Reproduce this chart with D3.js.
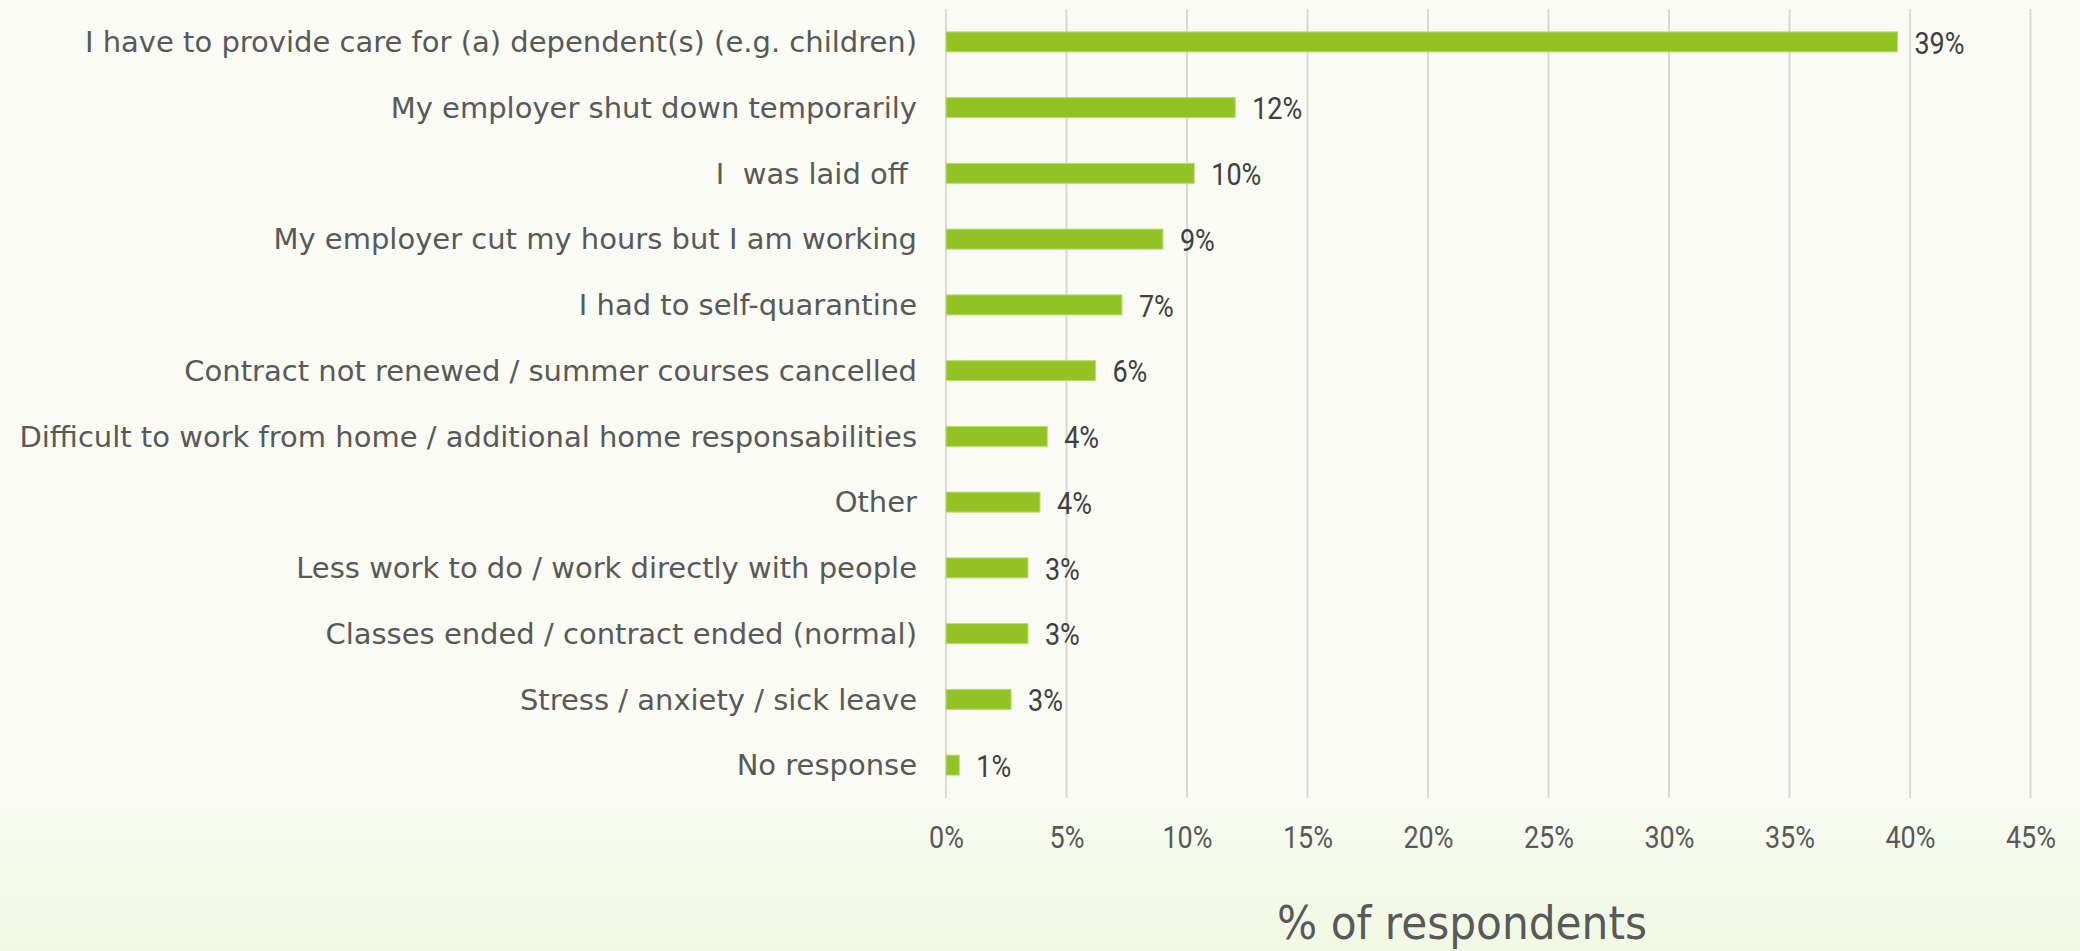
<!DOCTYPE html>
<html>
<head>
<meta charset="utf-8">
<script src="https://cdn.jsdelivr.net/npm/d3@7"></script>
<style>
  html, body { margin: 0; padding: 0; background: #f9fbf3; }
  svg { display: block; }
  text { white-space: pre; }
</style>
</head>
<body>
<svg id="chart" width="2080" height="951"></svg>
<script>
// Reasons for working less, share of respondents
const categories = [
  "I have to provide care for (a) dependent(s) (e.g. children)",
  "My employer shut down temporarily",
  "I  was laid off ",
  "My employer cut my hours but I am working",
  "I had to self-quarantine",
  "Contract not renewed / summer courses cancelled",
  "Difficult to work from home / additional home responsabilities",
  "Other",
  "Less work to do / work directly with people",
  "Classes ended / contract ended (normal)",
  "Stress / anxiety / sick leave",
  "No response"
];
const shares = [0.3948, 0.120, 0.103, 0.090, 0.073, 0.062, 0.042, 0.039, 0.034, 0.034, 0.027, 0.0055];
const tickValues = [0, 0.05, 0.10, 0.15, 0.20, 0.25, 0.30, 0.35, 0.40, 0.45];
const axisTitle = "% of respondents";

const W = 2080, H = 951;
const plot = { left: 946, right: 2030.5, top: 9, bottom: 798 };
const numberFont = "'Roboto', 'Liberation Sans', sans-serif";
const narrow = "scale(0.87, 1)";

const svg = d3.select("#chart");

// Background: pale panel with a soft green fade at the bottom
const defs = svg.append("defs");
const grad = defs.append("linearGradient")
  .attr("id", "bottomFade").attr("x1", 0).attr("y1", 0).attr("x2", 0).attr("y2", 1);
grad.append("stop").attr("offset", "0%").attr("stop-color", "#f8fbf1");
grad.append("stop").attr("offset", "100%").attr("stop-color", "#f1f8e4");

svg.append("rect").attr("x", 0).attr("y", 0).attr("width", W).attr("height", H).attr("fill", "#f9fbf4");
svg.append("rect").attr("x", 0).attr("y", 808).attr("width", W).attr("height", H - 808).attr("fill", "url(#bottomFade)");

const x = d3.scaleLinear().domain([0, 0.45]).range([plot.left, plot.right]);
const y = d3.scaleBand().domain(categories).range([plot.top, plot.bottom]).paddingInner(0.696).paddingOuter(0.348);

const pct = d3.format(".0%");

// Vertical gridlines
svg.append("g")
  .selectAll("line")
  .data(tickValues)
  .join("line")
  .attr("x1", d => x(d)).attr("x2", d => x(d))
  .attr("y1", plot.top).attr("y2", plot.bottom)
  .attr("stroke", "#d9d9d9")
  .attr("stroke-width", 2);

// X axis tick labels
const xAxis = d3.axisBottom(x).tickValues(tickValues).tickFormat(pct).tickSize(0).tickPadding(0);
const xg = svg.append("g").attr("transform", `translate(0, ${plot.bottom})`).call(xAxis);
xg.select(".domain").remove();
xg.selectAll("text")
  .attr("y", 39)
  .attr("dy", "0.35em")
  .attr("transform", narrow)
  .attr("fill", "#595959")
  .style("font-family", numberFont)
  .style("font-size", "31px");

// Category labels
const yAxis = d3.axisLeft(y).tickSize(0).tickPadding(0);
const yg = svg.append("g").attr("transform", `translate(${plot.left - 29}, 0)`).call(yAxis);
yg.select(".domain").remove();
yg.selectAll("text")
  .attr("x", 0)
  .attr("dy", "0.35em")
  .attr("fill", "#595959")
  .style("font-family", "'DejaVu Sans', sans-serif")
  .style("font-size", "29px");

// Bars
svg.append("g")
  .selectAll("rect")
  .data(categories)
  .join("rect")
  .attr("x", x(0))
  .attr("y", d => y(d))
  .attr("width", (d, i) => x(shares[i]) - x(0))
  .attr("height", y.bandwidth())
  .attr("fill", "#93c225")
  .attr("stroke", "#b9dc70")
  .attr("stroke-width", 1);

// Value labels
svg.append("g")
  .selectAll("text")
  .data(categories)
  .join("text")
  .attr("transform", (d, i) => `translate(${x(shares[i]) + 17}, ${y(d) + y.bandwidth() / 2 + 1}) ${narrow}`)
  .attr("dy", "0.35em")
  .attr("fill", "#404040")
  .style("font-family", numberFont)
  .style("font-size", "31px")
  .text((d, i) => pct(shares[i]));

// Axis title
svg.append("text")
  .attr("x", 1462)
  .attr("y", 939)
  .attr("text-anchor", "middle")
  .attr("fill", "#595959")
  .style("font-family", "'DejaVu Sans Condensed', 'DejaVu Sans', sans-serif")
  .style("font-stretch", "condensed")
  .style("font-size", "47px")
  .text(axisTitle);
</script>
</body>
</html>
